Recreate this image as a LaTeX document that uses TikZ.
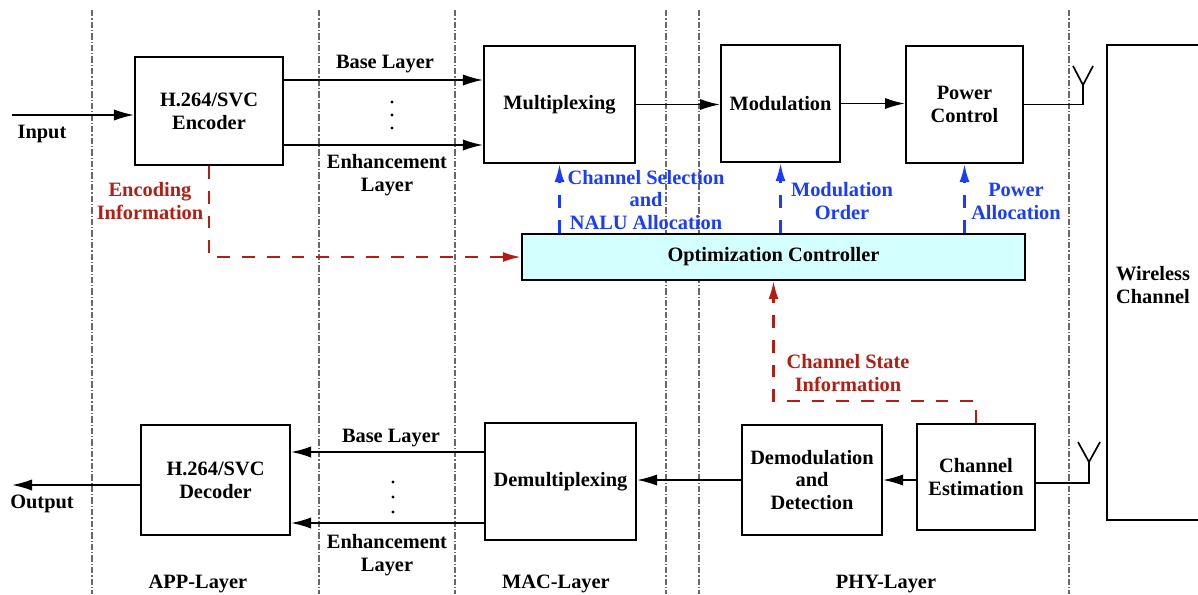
\documentclass[tikz,border=0pt]{standalone}
\usepackage{fontspec}
\setmainfont{Liberation Serif}
\usetikzlibrary{arrows.meta}
\definecolor{myred}{RGB}{178,30,20}
\definecolor{myblue}{RGB}{25,60,255}
\definecolor{mycyan}{RGB}{212,255,255}
\definecolor{mygray}{RGB}{105,105,105}

\begin{document}
\begin{tikzpicture}[x=0.025cm, y=-0.025cm,
    font=\fontsize{14.5}{16.3}\selectfont\bfseries,
    block/.style={draw, line width=1.4pt, align=center, inner sep=2pt},
    wire/.style={line width=1.2pt},
    sig/.style={wire, -{Latex[length=5mm,width=2.8mm]}},
    ctrl/.style={line width=1.6pt, dash pattern=on 3.2mm off 3mm, -{Latex[length=4.5mm,width=2.5mm]}},
    layerline/.style={mygray, line width=1.3pt, dash pattern=on 1.6mm off 0.5mm on 0.3mm off 0.5mm}]
    \useasboundingbox (0,0) rectangle (1198,594);

    % --- Layer boundaries
    \foreach \xb in {92,319,455,666,699,1069}
        \draw[layerline] (\xb,10) -- (\xb,594);
    \node (app) at (198,584) {APP-Layer};
    \node (mac) at (556,584) {MAC-Layer};
    \node (phy) at (886,584) {PHY-Layer};

    % --- Transmitter (top row)
    \begin{scope}
        \node[block, minimum width=3.7cm, minimum height=2.7cm] (enc) at (209,111) {H.264/SVC\\Encoder};
        \node[block, minimum width=3.775cm, minimum height=2.925cm] (mux) at (559.5,104.5) {Multiplexing};
        \node[block, minimum width=2.975cm, minimum height=2.925cm] (mod) at (780.5,103.5) {Modulation};
        \node[block, minimum width=2.925cm, minimum height=2.925cm] (pc) at (964.5,104.5) {Power\\Control};

        % Input
        \coordinate (in) at (12,115);
        \draw[sig] (in) -- (in -| enc.west);
        \node (inlbl) at (42,134) {Input};

        % Layers from the encoder
        \draw[sig] (enc.east |- 0,80) -- (mux.west |- 0,80);
        \draw[sig] (enc.east |- 0,145) -- (mux.west |- 0,145);
        \node (basetop) at (385,64) {Base Layer};
        \node[align=center] (enhtop) at (387,175) {Enhancement\\Layer};
        \foreach \yd in {102,115,128}
            \fill (392,\yd) circle (1.1pt);

        \draw[sig] (mux.east) -- (mux.east -| mod.west);
        \draw[sig] (mod.east) -- (mod.east -| pc.west);

        % Transmit antenna
        \coordinate (antT) at (1083,85);
        \draw[wire] (pc.east) -| (antT);
        \draw[wire] (antT) -- ++(-10,-19) (antT) -- ++(10,-19);
    \end{scope}

    % --- Wireless channel (box runs past the right edge)
    \node[block, minimum width=4cm, minimum height=11.875cm] (wch) at (1187,282.5) {};
    \node[align=center] (wchlbl) at (1153,285) {Wireless\\Channel};

    % --- Receiver (bottom row)
    \begin{scope}
        \node[block, minimum width=3.725cm, minimum height=2.75cm] (dec) at (215.5,480) {H.264/SVC\\Decoder};
        \node[block, minimum width=3.775cm, minimum height=2.925cm] (demux) at (560.5,481.5) {Demultiplexing};
        \node[block, minimum width=3.5cm, minimum height=2.75cm] (demod) at (812,480) {Demodulation\\and\\Detection};
        \node[block, minimum width=2.95cm, minimum height=2.65cm] (chest) at (976,477) {Channel\\Estimation};

        % Receive antenna
        \coordinate (antR) at (1089,462);
        \draw[wire] (chest.east |- 0,483) -| (antR);
        \draw[wire] (antR) -- ++(-11,-20) (antR) -- ++(11,-20);

        \draw[sig] (chest.west |- demod.east) -- (demod.east);
        \draw[sig] (demod.west) -- (demod.west -| demux.east);

        % Layers into the decoder
        \draw[sig] (demux.west |- 0,452) -- (dec.east |- 0,452);
        \draw[sig] (demux.west |- 0,523) -- (dec.east |- 0,523);
        \node (basebot) at (391,438) {Base Layer};
        \node[align=center] (enhbot) at (387,555) {Enhancement\\Layer};
        \foreach \yd in {482,497,512}
            \fill (393,\yd) circle (1.1pt);

        % Output
        \coordinate (out) at (12,485);
        \draw[sig] (dec.west |- out) -- (out);
        \node (outlbl) at (42,504) {Output};
    \end{scope}

    % --- Optimization controller and its feedback
    \node[block, fill=mycyan, minimum width=12.575cm, minimum height=1.15cm] (opt) at (773.5,257) {Optimization Controller};

    \draw[ctrl, myred] (enc.south) |- (opt.west);
    \node[myred, align=center] (encinfo) at (150,201) {Encoding\\Information};

    \draw[ctrl, myred] (chest.north) -- ++(0,-22) -| (opt.south);
    \node[myred, align=center] (csi) at (848,373) {Channel State\\Information};

    \draw[ctrl, myblue] (opt.north -| mux.south) -- (mux.south);
    \node[myblue, align=center] (chsel) at (646,200) {Channel Selection\\and\\NALU Allocation};
    \draw[ctrl, myblue] (opt.north -| mod.south) -- (mod.south);
    \node[myblue, align=center] (modord) at (842,201) {Modulation\\Order};
    \draw[ctrl, myblue] (opt.north -| pc.south) -- (pc.south);
    \node[myblue, align=center] (palloc) at (1016,201) {Power\\Allocation};
\end{tikzpicture}
\end{document}
